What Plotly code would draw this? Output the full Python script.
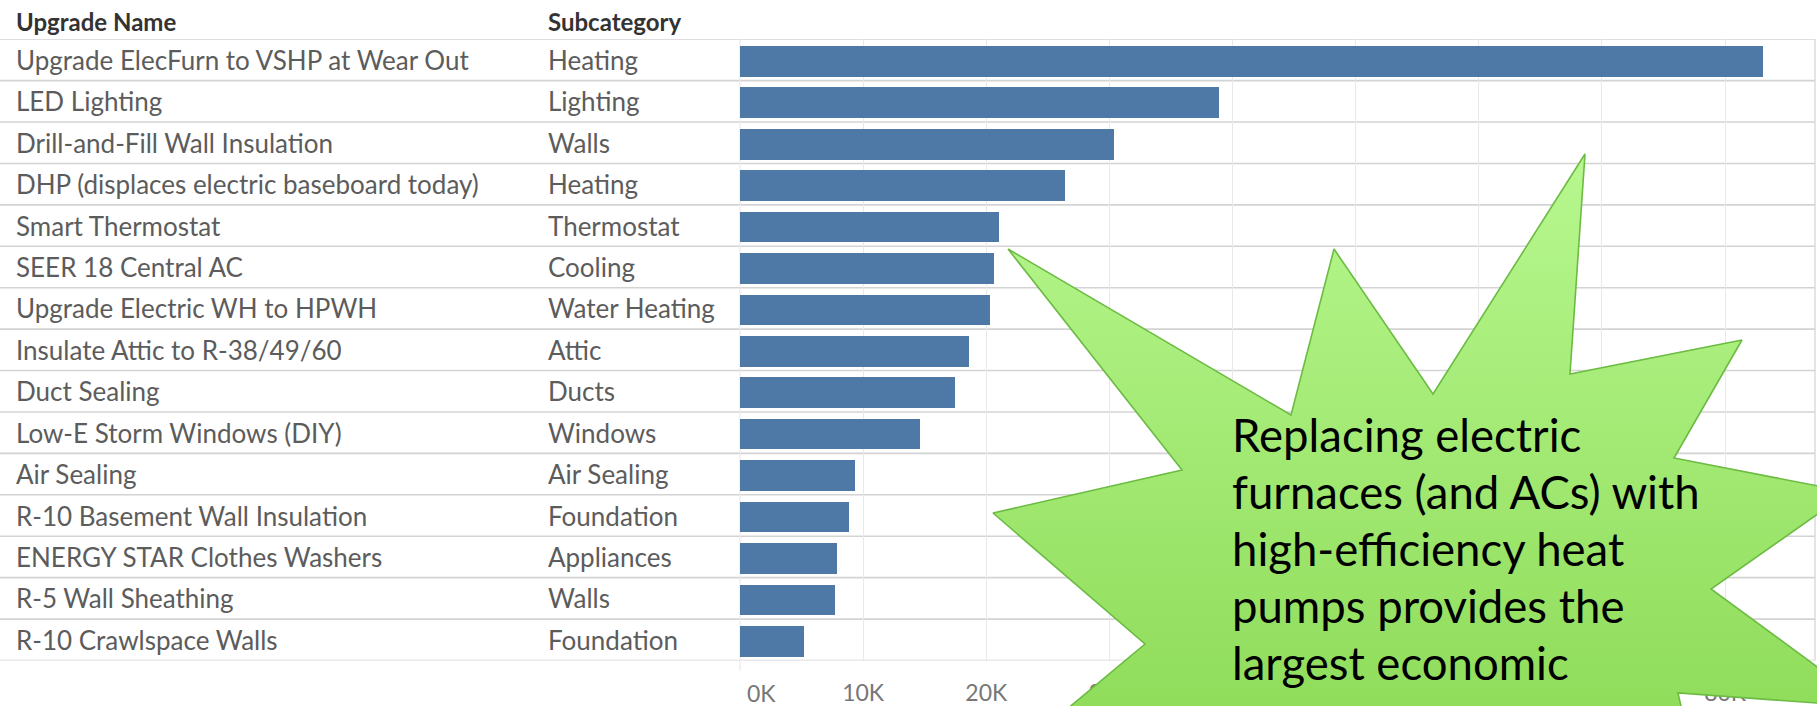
import plotly.graph_objects as go

# Savings by upgrade measure (upgrade name, subcategory, value)
upgrade_names = [
    "Upgrade ElecFurn to VSHP at Wear Out",
    "LED Lighting",
    "Drill-and-Fill Wall Insulation",
    "DHP (displaces electric baseboard today)",
    "Smart Thermostat",
    "SEER 18 Central AC",
    "Upgrade Electric WH to HPWH",
    "Insulate Attic to R-38/49/60",
    "Duct Sealing",
    "Low-E Storm Windows (DIY)",
    "Air Sealing",
    "R-10 Basement Wall Insulation",
    "ENERGY STAR Clothes Washers",
    "R-5 Wall Sheathing",
    "R-10 Crawlspace Walls",
]
subcategories = [
    "Heating", "Lighting", "Walls", "Heating", "Thermostat", "Cooling",
    "Water Heating", "Attic", "Ducts", "Windows", "Air Sealing",
    "Foundation", "Appliances", "Walls", "Foundation",
]
savings = [
    83100, 38900, 30400, 26400, 21000, 20600, 20300, 18600,
    17450, 14600, 9330, 8870, 7850, 7690, 5170,
]
tick_values = [0, 10000, 20000, 30000, 40000, 50000, 60000, 70000, 80000]
tick_labels = [f"{v // 1000}K" for v in tick_values]

callout_lines = [
    "Replacing electric",
    "furnaces (and ACs) with",
    "high-efficiency heat",
    "pumps provides the",
    "largest economic",
    "potential.",
]

W, H = 1817, 706
ROW_TOP, ROW_BOTTOM = 39.2, 660.5
PLOT_LEFT, PLOT_RIGHT = 740, 1815
X_MAX = 87300
TICK_Y = 693

BAR_COLOR = "#4e79a7"
SEP_COLOR = "#d3d3d3"
GRID_COLOR = "#e9e9e9"
NAME_COLOR = "#5c5c5c"
HEAD_COLOR = "#333333"
AXIS_COLOR = "#777777"
FONT = "Lato"

fig = go.Figure()

fig.add_trace(go.Bar(
    x=savings,
    y=upgrade_names,
    orientation="h",
    width=0.74,
    offset=-0.33,
    marker=dict(color=BAR_COLOR, line=dict(width=0)),
    hoverinfo="x+y",
    showlegend=False,
))

# Starburst callout drawn in canvas pixel space on an overlay subplot
burst_x = [1008, 1291, 1334, 1433, 1585, 1570, 1742, 1674, 1849, 1711,
           1872, 1678, 1700, 1500, 1380, 1250, 1030, 1145, 993, 1182, 1008]
burst_y = [249, 415, 249, 394, 154, 374, 340, 458, 492, 589,
           707, 693, 790, 760, 860, 760, 740, 644, 513, 470, 249]
fig.add_trace(go.Scatter(
    x=burst_x, y=burst_y,
    xaxis="x2", yaxis="y2",
    mode="lines",
    fill="toself",
    line=dict(color="#6cbb43", width=1.6),
    fillgradient=dict(
        type="vertical",
        start=150, stop=720,
        colorscale=[[0, "#b8f890"], [1, "#8fdc5a"]],
    ),
    hoverinfo="skip",
    showlegend=False,
))

shapes = []
# row separators across the whole table
for i in range(len(upgrade_names) + 1):
    shapes.append(dict(
        type="line", xref="paper", yref="y",
        x0=0, x1=PLOT_RIGHT / W, y0=i - 0.5, y1=i - 0.5,
        line=dict(color=SEP_COLOR, width=1.6), layer="below",
    ))
# left and right edges of the bar pane
for edge in (PLOT_LEFT, PLOT_RIGHT):
    shapes.append(dict(
        type="line", xref="paper", yref="paper",
        x0=edge / W, x1=edge / W,
        y0=(H - ROW_BOTTOM - 10) / H if edge == PLOT_LEFT else (H - ROW_BOTTOM) / H,
        y1=(H - ROW_TOP) / H,
        line=dict(color=SEP_COLOR if edge == PLOT_RIGHT else GRID_COLOR, width=1.2),
        layer="below",
    ))

annotations = []
for label, xpos in (("Upgrade Name", 14), ("Subcategory", 546)):
    annotations.append(dict(
        text=f"<b>{label}</b>", xref="paper", yref="paper",
        x=xpos / W, y=(H - 21) / H, xanchor="left", yanchor="middle",
        showarrow=False, font=dict(family=FONT, size=24, color=HEAD_COLOR),
    ))
for name, sub in zip(upgrade_names, subcategories):
    annotations.append(dict(
        text=name, xref="paper", yref="y", x=14 / W, y=name,
        xanchor="left", yanchor="middle", showarrow=False,
        font=dict(family=FONT, size=26, color=NAME_COLOR),
    ))
    annotations.append(dict(
        text=sub, xref="paper", yref="y", x=546 / W, y=name,
        xanchor="left", yanchor="middle", showarrow=False,
        font=dict(family=FONT, size=26, color=NAME_COLOR),
    ))

# first axis label sits flush with the pane's left edge
annotations.append(dict(
    text=tick_labels[0], xref="x", yref="paper",
    x=tick_values[0], y=(H - TICK_Y) / H, xanchor="left", yanchor="middle",
    xshift=5, showarrow=False,
    font=dict(family=FONT, size=23, color=AXIS_COLOR),
))

for k, line in enumerate(callout_lines):
    annotations.append(dict(
        text=line, xref="x2", yref="y2", x=1230, y=434 + 57 * k,
        xanchor="left", yanchor="middle", showarrow=False,
        font=dict(family=FONT, size=45.5, color="#000000"),
    ))

fig.update_layout(
    width=W, height=H,
    margin=dict(l=0, r=0, t=0, b=0, pad=0, autoexpand=False),
    paper_bgcolor="white",
    plot_bgcolor="rgba(0,0,0,0)",
    bargap=0,
    xaxis=dict(
        domain=[PLOT_LEFT / W, PLOT_RIGHT / W],
        range=[0, X_MAX],
        tickvals=tick_values,
        ticktext=[""] + tick_labels[1:],
        showgrid=True, gridcolor=GRID_COLOR, gridwidth=1,
        zeroline=False,
        showline=False,
        ticks="outside", ticklen=12, tickcolor="rgba(0,0,0,0)",
        tickfont=dict(family=FONT, size=23, color=AXIS_COLOR),
        automargin=False,
        fixedrange=True,
    ),
    yaxis=dict(
        domain=[(H - ROW_BOTTOM) / H, (H - ROW_TOP) / H],
        type="category",
        categoryorder="array", categoryarray=upgrade_names,
        range=[len(upgrade_names) - 0.5, -0.5],
        showticklabels=False, showgrid=False, zeroline=False,
        automargin=False,
        fixedrange=True,
    ),
    xaxis2=dict(domain=[0, 1], range=[0, W], anchor="y2", visible=False,
                automargin=False, fixedrange=True),
    yaxis2=dict(domain=[0, 1], range=[H, 0], anchor="x2", visible=False,
                automargin=False, fixedrange=True),
    shapes=shapes,
    annotations=annotations,
    showlegend=False,
)

fig.write_html("out.html")
